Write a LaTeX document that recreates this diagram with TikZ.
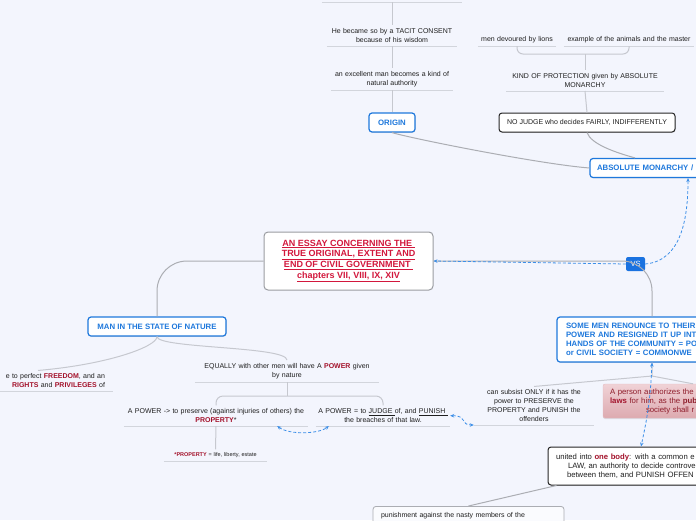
\documentclass[tikz,border=0pt]{standalone}
\usepackage{fontspec}
\setmainfont{Liberation Sans}
\usetikzlibrary{positioning, calc, arrows.meta, shadows}
\definecolor{Paper}{HTML}{F3F5FD}
\definecolor{Ink}{HTML}{1F1F1F}
\definecolor{Dark}{HTML}{262626}
\definecolor{BoxBlue}{HTML}{1E78DC}
\definecolor{DashBlue}{HTML}{3D8FE8}
\definecolor{VsBlue}{HTML}{1A72E0}
\definecolor{Title}{HTML}{D2173C}
\definecolor{Wine}{HTML}{A3122B}
\definecolor{WireGray}{HTML}{ABADB3}
\definecolor{SoftGray}{HTML}{C6C8CF}
\definecolor{LineGray}{HTML}{D2D5DC}
\definecolor{RoseTop}{HTML}{F0D2D6}
\definecolor{RoseBot}{HTML}{DDAAB0}
\definecolor{RoseInk}{HTML}{8E1C2A}
\newcommand{\redword}[1]{\textcolor{Wine}{\textbf{#1}}}
\tikzset{
    topic/.style={anchor=south, align=center, text width=#1, inner xsep=0pt, inner ysep=3pt, text=Ink, font=\fontsize{7}{9}\selectfont},
    uline/.style={draw=LineGray, line width=0.9pt},
    soft/.style={draw=SoftGray, line width=1pt},
    wire/.style={draw=WireGray, line width=1pt},
    bluebox/.style={rectangle, rounded corners=3pt, draw=BoxBlue, line width=1.2pt, fill=white, text=BoxBlue, font=\bfseries\fontsize{7.8}{9}\selectfont, minimum height=19pt, drop shadow={shadow xshift=0.5pt, shadow yshift=-0.8pt, opacity=0.25}},
    darkbox/.style={rectangle, rounded corners=3pt, draw=Dark, line width=1pt, fill=white, text=Ink, font=\fontsize{7}{9}\selectfont, minimum height=19pt, drop shadow={shadow xshift=0.5pt, shadow yshift=-0.8pt, opacity=0.3}},
    rosebox/.style={rectangle, rounded corners=2pt, draw=RoseBot!80, top color=RoseTop, bottom color=RoseBot, text=RoseInk, font=\fontsize{7.8}{9}\selectfont, drop shadow={shadow xshift=0pt, shadow yshift=-1pt, opacity=0.2}},
    paperbox/.style={rectangle, rounded corners=3pt, draw=WireGray, line width=0.8pt, fill=white!60!Paper, text=Ink, font=\fontsize{7}{9}\selectfont},
    essay/.style={rectangle, rounded corners=4pt, draw=WireGray!90!black, line width=1pt, fill=white, text=Title, align=center, font=\bfseries\fontsize{9}{10.8}\selectfont, minimum width=169pt, minimum height=58pt},
    vsbox/.style={rectangle, rounded corners=2pt, fill=VsBlue, text=white, font=\fontsize{7.5}{8}\selectfont, minimum width=19pt, minimum height=14pt, inner sep=0pt},
    dashlink/.style={draw=DashBlue, line width=0.8pt, dash pattern=on 3pt off 2pt},
    tip/.style={arrows={#1}},
}

\begin{document}
\begin{tikzpicture}[x=1pt, y=-1pt]
    \useasboundingbox (0,0) rectangle (696,520);
    \clip (0,0) rectangle (696,520);
    \fill[Paper] (0,0) rectangle (696,520);

    % origin branch
    \node[topic=140pt] (prev) at (392,2) {};
    \node[topic=130pt] (wisdom) at (392,46) {He became so by a TACIT CONSENT\\because of his wisdom};
    \node[topic=121pt] (authority) at (392,90) {an excellent man becomes a kind of\\natural authority};
    \node[bluebox, minimum width=46pt] (origin) at (392,122.5) {ORIGIN};

    % absolute monarchy branch
    \node[topic=78pt] (lions) at (517,46) {men devoured by lions};
    \node[topic=130pt] (master) at (629,46) {example of the animals and the master};
    \coordinate (lionbrk) at (585,54);
    \node[topic=157pt] (protection) at (585,91) {KIND OF PROTECTION given by ABSOLUTE\\MONARCHY};
    \node[darkbox, minimum width=176pt] (nojudge) at (587,122.5) {NO JUDGE who decides FAIRLY, INDIFFERENTLY};
    \node[bluebox, text width=182pt, inner xsep=7pt, align=left] (absmon) at (688,168) {ABSOLUTE MONARCHY /};

    % centre
    \node[essay] (essay) at (348.5,261) {\underline{AN ESSAY CONCERNING THE }\\\underline{TRUE ORIGINAL, EXTENT AND}\\\underline{END OF CIVIL GOVERNMENT }\\\underline{chapters VII, VIII, IX, XIV}};
    \node[vsbox] (vs) at (635.5,264) {VS};

    % state of nature
    \node[bluebox, minimum width=138pt] (nature) at (157,326.5) {MAN IN THE STATE OF NATURE};
    \node[topic=134pt, inner xsep=8pt, align=right] (freedom) at (38,391) {e to perfect \redword{FREEDOM}, and an\\\redword{RIGHTS} and \redword{PRIVILEGES} of};
    \node[topic=184pt] (equally) at (287,382) {EQUALLY with other men will have A \redword{POWER} given\\by nature};
    \coordinate (eqbrk) at (287,396);
    \node[topic=184pt] (preserve) at (216,426) {A POWER -> to preserve (against injuries of others) the\\\redword{PROPERTY}*};
    \node[topic=134pt] (judge) at (383,426) {A POWER = to \underline{JUDGE\ }of, and \underline{PUNISH\ }\\the breaches of that law.};
    \node[topic=103pt, font=\fontsize{5.5}{7}\selectfont] (property) at (215.5,461) {\redword{*PROPERTY} = life, liberty, estate};

    % civil society
    \node[bluebox, text width=172pt, inner xsep=9pt, align=left, minimum height=45pt] (somemen) at (652,339.5) {SOME MEN RENOUNCE TO THEIR\\POWER AND RESIGNED IT UP INT\\HANDS OF THE COMMUNITY = PO\\or CIVIL SOCIETY = COMMONWE};
    \coordinate (smhub) at (652,376);
    \node[topic=120pt] (subsist) at (534,425) {can subsist ONLY if it has the\\power to PRESERVE the\\PROPERTY and PUNISH the\\offenders};
    \node[rosebox, text width=166pt, inner xsep=7pt, align=left, minimum height=34pt] (pink) at (693,401) {A person authorizes the\\\redword{laws} for him, as the \textbf{publ}\\\hspace*{36pt}society shall r};
    \node[darkbox, text width=170pt, inner xsep=8pt, align=left, minimum height=38pt, font=\fontsize{7.7}{9}\selectfont] (united) at (641,466) {united into \redword{one body}: with a common e\\\hspace*{12pt}LAW, an authority to decide controve\\\hspace*{11pt}between them, and PUNISH OFFEN};
    \node[paperbox, anchor=north, text width=175pt, inner xsep=8pt, inner ysep=6pt, align=left] (punish) at (468.5,506) {punishment against the nasty members of the};

    % underlines
    \foreach \n in {prev, wisdom, authority, lions, master, protection, freedom, equally, preserve, judge, property, subsist}
        \draw[uline] (\n.south west) -- (\n.south east);

    % connectors
    \draw[soft] (prev.south) -- (wisdom.north);
    \draw[soft] (wisdom.south) -- (authority.north);
    \draw[soft] (authority.south) -- (origin.north);
    \draw[wire] (origin.south) .. controls +(20,6) and +(-50,-4) .. (absmon.west);
    \draw[soft, rounded corners=6pt] (lions.south) |- (lionbrk) -| (master.south);
    \draw[soft] (lionbrk) -- (protection.north);
    \draw[soft] (protection.south) -- (nojudge.north);
    \draw[wire] (nojudge.south) .. controls +(4,12) and +(-18,-5) .. ([xshift=-53pt]absmon.north);

    \draw[wire, rounded corners=30pt] (essay.west) -| (nature.north);
    \draw[wire, rounded corners=30pt] (essay.east) -| (somemen.north);

    \draw[soft] (nature.south) .. controls +(0,10) and +(70,-6) .. (freedom.north);
    \draw[soft] (nature.south) .. controls +(0,12) and +(0,-14) .. (equally.north);
    \draw[soft] (equally.south) -- (eqbrk);
    \draw[soft, rounded corners=7pt] (preserve.north) |- (eqbrk) -| (judge.north);
    \draw[soft] (preserve.south) -- (property.north);

    \draw[soft] (somemen.south) -- (smhub) -- (subsist.north);
    \draw[soft] (smhub) -- (pink.north);
    \draw[wire] ([xshift=9pt]united.south west) -- (punish.north);

    % dashed relations
    \draw[dashlink, tip={-Stealth[length=4pt,width=3.5pt]}] (vs.west) -- (essay.east);
    \draw[dashlink, tip={-Stealth[length=4pt,width=3.5pt]}] (vs.east) to[out=5, in=-90] (absmon.south);
    \draw[dashlink, tip={Stealth[length=4pt,width=3.5pt]-Stealth[length=4pt,width=3.5pt]}] ([xshift=-31pt]preserve.south east) .. controls +(12,9) and +(-10,8) .. ([xshift=13pt]judge.south west);
    \draw[dashlink, tip={Stealth[length=4pt,width=3.5pt]-Stealth[length=4pt,width=3.5pt]}] (judge.east) .. controls +(18,0) and +(-14,0) .. (subsist.south west);
    \draw[dashlink, tip={Stealth[length=4pt,width=3.5pt]-Stealth[length=4pt,width=3.5pt]}] (somemen.south) to[bend left=5] (united.north);
\end{tikzpicture}
\end{document}
